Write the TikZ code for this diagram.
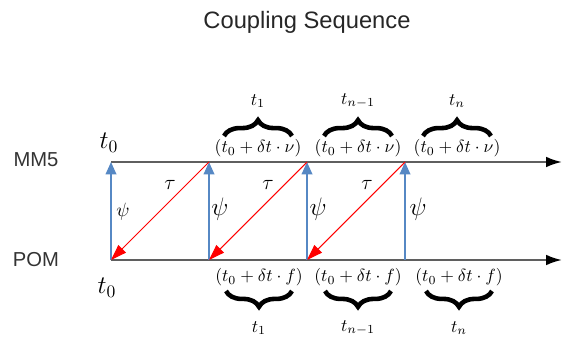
\documentclass[tikz,border=0pt]{standalone}
\usepackage{amsmath,amssymb}
\usepackage{fontspec}
\setsansfont{Liberation Sans}
\usetikzlibrary{arrows.meta,decorations.pathreplacing}
\definecolor{lblue}{RGB}{86,136,196}
\definecolor{axgray}{RGB}{95,95,95}

\begin{document}
\begin{tikzpicture}[x=0.02cm,y=-0.02cm,>=Latex,
        axis/.style={draw=axgray,line width=1.2pt,-{Latex[length=9pt,width=6pt,color=black]}},
        psiarr/.style={draw=lblue,line width=1pt,-{Triangle[length=7pt,width=6pt]}},
        tauarr/.style={draw=red,line width=0.6pt,-{Triangle[length=9pt,width=6pt]}},
        brc/.style={decorate,decoration={brace,amplitude=9pt,aspect=0.5},line width=2.6pt},
        modl/.style={font=\sffamily\fontsize{11.5}{14}\selectfont,text=black!80},
        mlbl/.style={font=\fontsize{10.3}{12}\selectfont,inner sep=1pt},
        big/.style={font=\fontsize{14}{16}\selectfont,inner sep=1pt}]
        \useasboundingbox (0,0) rectangle (563,340);
        \node[font=\sffamily\fontsize{13.5}{16}\selectfont,text=black!85] (title) at (307,22) {Coupling Sequence};
        \node[modl] (mm5) at (36,160) {MM5};
        \node[modl] (pom) at (36,260) {POM};
        % time axes
        \foreach \i/\x in {0/111,1/209,2/307,3/405}
          {\coordinate (m\i) at (\x,162); \coordinate (p\i) at (\x,260);}
        \coordinate (mend) at (562,162);
        \coordinate (pend) at (562,260);
        \draw[axis] (m0) -- (mend);
        \draw[axis] (p0) -- (pend);
        \node[big] (t0m) at (109,143) {$t_0$};
        \node[big] (t0p) at (107,288) {$t_0$};
        % exchanges
        \foreach \i in {0,...,3}{\draw[psiarr] (p\i) -- (m\i);}
        \foreach \i/\j in {1/0,2/1,3/2}{\draw[tauarr] (m\i) -- (p\j);}
        \node[font=\fontsize{11}{13}\selectfont] (psi0) at (123,212) {$\psi$};
        \foreach \i/\x in {1/220,2/318,3/418}
          {\node[font=\fontsize{15}{17}\selectfont] (psi\i) at (\x,209) {$\psi$};}
        \foreach \i/\x in {1/170,2/268,3/367}
          {\node[font=\fontsize{13}{15}\selectfont] (tau\i) at (\x,185) {$\tau$};}
        % MM5 steps
        \foreach \i/\x/\t in {1/258/t_1,2/358/t_{n-1},3/457/t_n}{
          \node[mlbl] (tv\i) at (\x,148) {$(t_0+\delta t\cdot\nu)$};
          \draw[brc] (\x-34,136) -- (\x+34,136);
          \node[mlbl] (ta\i) at (\x,101) {$\t$};
        }
        % POM steps
        \foreach \i/\x/\t in {1/259/t_1,2/358/t_{n-1},3/459/t_n}{
          \node[mlbl] (tf\i) at (\x,277) {$(t_0+\delta t\cdot f)$};
          \draw[brc] (\x+33,291) -- (\x-33,291);
          \node[mlbl] (tb\i) at (\x,328) {$\t$};
        }
      \end{tikzpicture}
\end{document}
